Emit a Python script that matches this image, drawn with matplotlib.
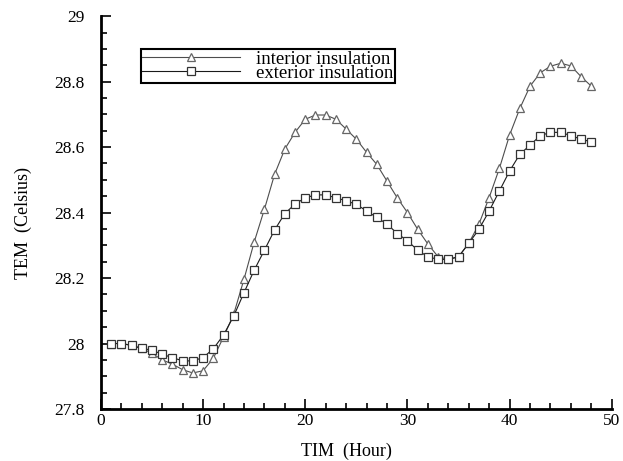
import numpy as np
import matplotlib
matplotlib.use('Agg')
import matplotlib.pyplot as plt
from matplotlib.ticker import MultipleLocator, FuncFormatter

hours = np.arange(1, 49)

interior = [28.00, 28.00, 27.995, 27.985, 27.97, 27.95, 27.937, 27.92, 27.91, 27.917,
            27.955, 28.02, 28.09, 28.196, 28.31, 28.41, 28.517, 28.594, 28.645, 28.685,
            28.698, 28.698, 28.685, 28.655, 28.624, 28.584, 28.547, 28.496, 28.445, 28.40,
            28.349, 28.304, 28.265, 28.257, 28.265, 28.306, 28.365, 28.446, 28.535, 28.637,
            28.718, 28.786, 28.827, 28.847, 28.856, 28.848, 28.815, 28.786]

exterior = [28.00, 28.00, 27.994, 27.985, 27.98, 27.967, 27.957, 27.947, 27.947, 27.957,
            27.984, 28.026, 28.084, 28.155, 28.224, 28.285, 28.347, 28.397, 28.426, 28.445,
            28.454, 28.454, 28.445, 28.436, 28.425, 28.405, 28.385, 28.365, 28.336, 28.314,
            28.285, 28.265, 28.257, 28.257, 28.265, 28.306, 28.349, 28.405, 28.466, 28.527,
            28.578, 28.606, 28.635, 28.645, 28.645, 28.635, 28.624, 28.616]

plt.rcParams['font.family'] = ['Liberation Serif', 'DejaVu Serif']
plt.rcParams['font.size'] = 11

fig = plt.figure(figsize=(6.23, 4.61), dpi=100)
ax = fig.add_axes([0.162, 0.1128, 0.82, 0.8522])

ax.plot(hours, interior, color='0.3', lw=0.8, marker='^', ms=6,
        mfc='white', mec='0.4', mew=0.9, label='interior insulation')
ax.plot(hours, exterior, color='0.1', lw=0.8, marker='s', ms=5.5,
        mfc='white', mec='0.2', mew=0.9, label='exterior insulation')

ax.set_xlim(0, 50)
ax.set_ylim(27.8, 29)
ax.xaxis.set_major_locator(MultipleLocator(10))
ax.xaxis.set_minor_locator(MultipleLocator(2))
ax.yaxis.set_major_locator(MultipleLocator(0.2))
ax.yaxis.set_minor_locator(MultipleLocator(0.05))
ax.yaxis.set_major_formatter(FuncFormatter(lambda v, p: '%g' % round(v, 2)))

ax.spines['top'].set_visible(False)
ax.spines['right'].set_visible(False)
ax.spines['left'].set_linewidth(2)
ax.spines['bottom'].set_linewidth(2)
ax.tick_params(which='both', direction='in', width=1.2)
ax.tick_params(which='major', length=7, labelsize=12.5)
ax.tick_params(which='minor', length=4)
ax.tick_params(axis='y', which='major', pad=12)
ax.tick_params(axis='x', which='major', pad=3)

ax.set_xlabel('TIM  (Hour)', fontsize=13)
ax.set_ylabel('TEM  (Celsius)', fontsize=13)
ax.xaxis.set_label_coords(0.48, -0.085)
ax.yaxis.set_label_coords(-0.135, 0.473)

leg = ax.legend(loc='upper left', bbox_to_anchor=(0.078, 0.916), borderaxespad=0,
                fancybox=False, edgecolor='black', framealpha=1, handlelength=5.2,
                handletextpad=0.85, labelspacing=-0.16, borderpad=0.08, fontsize=13.5)
leg.get_frame().set_linewidth(1.5)

fig.savefig('out.png', dpi=100)
